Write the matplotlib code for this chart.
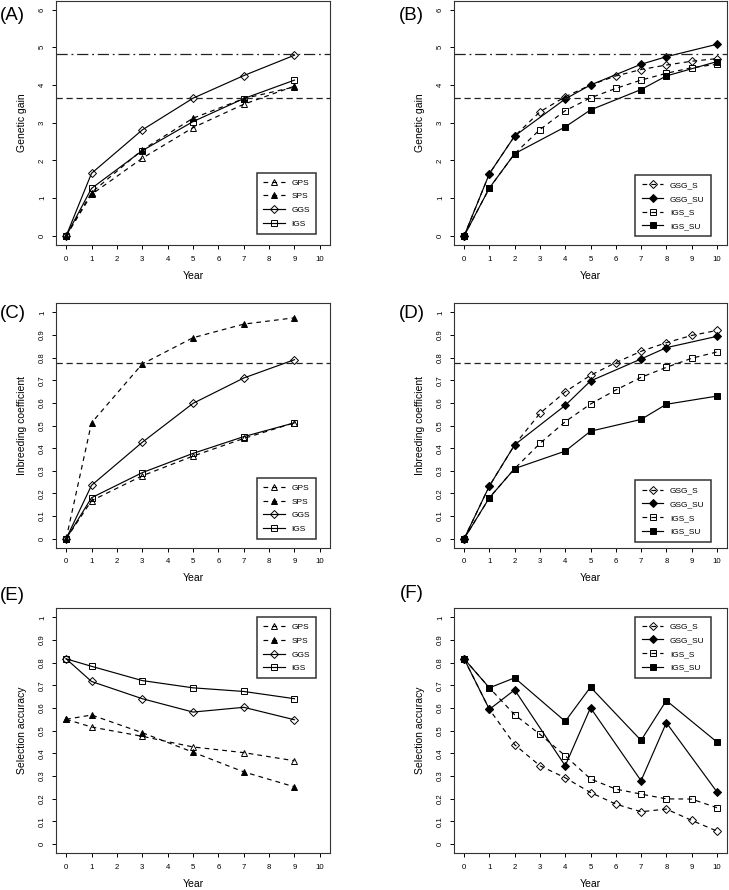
import numpy as np
import matplotlib
matplotlib.use('Agg')
import matplotlib.pyplot as plt

plt.rcParams['font.family'] = ['Liberation Sans', 'DejaVu Sans']

# years
yrs_odd = [0, 1, 3, 5, 7, 9]
yrs_all = [0, 1, 2, 3, 4, 5, 6, 7, 8, 9, 10]
yrs_su = [0, 1, 2, 4, 5, 7, 8, 10]

# (A) genetic gain
gain_gps = [0, 1.10, 2.06, 2.87, 3.49, 3.97]
gain_sps = [0, 1.15, 2.28, 3.12, 3.64, 3.95]
gain_ggs = [0, 1.66, 2.81, 3.65, 4.25, 4.79]
gain_igs = [0, 1.26, 2.26, 3.03, 3.64, 4.13]

# (B) genetic gain
gain_gsg_s = [0, 1.65, 2.65, 3.29, 3.69, 4.00, 4.24, 4.41, 4.53, 4.63, 4.70]
gain_gsg_su = [0, 1.65, 2.65, 3.63, 4.00, 4.55, 4.75, 5.08]
gain_igs_s = [0, 1.27, 2.18, 2.82, 3.32, 3.66, 3.91, 4.13, 4.31, 4.46, 4.55]
gain_igs_su = [0, 1.27, 2.18, 2.89, 3.34, 3.88, 4.24, 4.62]
gain_ref = [4.82, 3.65]

# (C) inbreeding coefficient
inb_gps = [0, 0.168, 0.278, 0.365, 0.443, 0.512]
inb_sps = [0, 0.512, 0.772, 0.888, 0.948, 0.976]
inb_ggs = [0, 0.236, 0.426, 0.598, 0.710, 0.791]
inb_igs = [0, 0.181, 0.292, 0.377, 0.451, 0.512]

# (D) inbreeding coefficient
inb_gsg_s = [0, 0.233, 0.415, 0.554, 0.649, 0.722, 0.778, 0.828, 0.866, 0.898, 0.920]
inb_gsg_su = [0, 0.233, 0.415, 0.589, 0.697, 0.794, 0.844, 0.894]
inb_igs_s = [0, 0.181, 0.310, 0.421, 0.517, 0.595, 0.657, 0.713, 0.757, 0.797, 0.825]
inb_igs_su = [0, 0.181, 0.310, 0.387, 0.475, 0.527, 0.594, 0.630]
inb_ref = 0.775

# (E) selection accuracy
acc_gps = [0.550, 0.516, 0.475, 0.428, 0.403, 0.367]
acc_sps = [0.550, 0.569, 0.491, 0.405, 0.318, 0.252]
acc_ggs = [0.817, 0.717, 0.641, 0.582, 0.603, 0.548]
acc_igs = [0.817, 0.784, 0.721, 0.689, 0.673, 0.641]

# (F) selection accuracy
acc_gsg_s = [0.817, 0.594, 0.438, 0.345, 0.292, 0.227, 0.176, 0.142, 0.154, 0.104, 0.057]
acc_gsg_su = [0.817, 0.594, 0.680, 0.345, 0.601, 0.279, 0.535, 0.230]
acc_igs_s = [0.817, 0.689, 0.570, 0.484, 0.389, 0.287, 0.242, 0.220, 0.199, 0.198, 0.160]
acc_igs_su = [0.817, 0.689, 0.733, 0.541, 0.692, 0.457, 0.633, 0.450]

LW = 0.85
DASH = (4, 3.5)

left_style = [
    ('GPS', '^', 'none', DASH, 4.4),
    ('SPS', '^', 'k', DASH, 4.4),
    ('GGS', 'D', 'none', None, 4.0),
    ('IGS', 's', 'none', None, 4.2),
]
right_style = [
    ('GSG_S', 'D', 'none', DASH, 4.0),
    ('GSG_SU', 'D', 'k', None, 4.0),
    ('IGS_S', 's', 'none', DASH, 3.8),
    ('IGS_SU', 's', 'k', None, 3.8),
]

fig = plt.figure(figsize=(7.29, 8.90), dpi=100)
W, H = 729, 890


def make_ax(x0, x1, y0, y1):
    return fig.add_axes([x0 / W, 1 - y1 / H, (x1 - x0) / W, (y1 - y0) / H])


def draw(ax, xs_list, ys_list, styles, ymax, yticks, ylabel, leg_loc, leg_anchor):
    for xs, ys, (lab, m, fc, dash, ms) in zip(xs_list, ys_list, styles):
        ln, = ax.plot(xs, ys, color='k', lw=LW, marker=m, ms=ms,
                      mfc=fc, mec='k', mew=0.7, label=lab)
        if dash is not None:
            ln.set_dashes(dash)
    ax.set_xlim(-0.4, 10.4)
    ax.set_ylim(-0.04 * ymax, 1.04 * ymax)
    ax.set_xticks(range(11))
    ax.set_yticks(yticks)
    ax.set_yticklabels([('%g' % t) for t in yticks], rotation=90, va='center')
    ax.tick_params(direction='out', length=3.2, width=0.7, labelsize=5.6)
    ax.tick_params(axis='x', pad=4.5)
    ax.tick_params(axis='y', pad=4)
    for s in ax.spines.values():
        s.set_linewidth(0.8)
        s.set_color('#333333')
    ax.set_xlabel('Year', fontsize=7.5)
    ax.set_ylabel(ylabel, fontsize=7.5)
    ax.xaxis.set_label_coords(0.5, -0.105)
    ax.yaxis.set_label_coords(-29 / (ax.get_position().width * W), 0.5)
    leg = ax.legend(loc=leg_loc, bbox_to_anchor=leg_anchor, fontsize=6,
                    frameon=True, fancybox=False, edgecolor='k',
                    handlelength=2.6, handletextpad=0.8, labelspacing=0.7,
                    borderpad=0.75, borderaxespad=0)
    leg.get_frame().set_linewidth(1.1)
    return ax


def ref_lines(ax, vals, styles):
    for v, st in zip(vals, styles):
        ln = ax.axhline(v, color='#222222', lw=0.9)
        ln.set_dashes(st)


gain_ticks = [0, 1, 2, 3, 4, 5, 6]
frac_ticks = [0, 0.1, 0.2, 0.3, 0.4, 0.5, 0.6, 0.7, 0.8, 0.9, 1]

# row 1
axA = make_ax(56, 330, 0.5, 245)
draw(axA, [yrs_odd] * 4, [gain_gps, gain_sps, gain_ggs, gain_igs], left_style,
     6, gain_ticks, 'Genetic gain', 'lower right', (0.949, 0.045))
ref_lines(axA, gain_ref, [(9, 3, 1.5, 3), (5, 3)])

axB = make_ax(454, 727, 0.5, 245)
draw(axB, [yrs_all, yrs_su, yrs_all, yrs_su],
     [gain_gsg_s, gain_gsg_su, gain_igs_s, gain_igs_su], right_style,
     6, gain_ticks, 'Genetic gain', 'lower right', (0.941, 0.035))
ref_lines(axB, gain_ref, [(9, 3, 1.5, 3), (5, 3)])

# row 2
axC = make_ax(56, 330, 303.3, 547.8)
draw(axC, [yrs_odd] * 4, [inb_gps, inb_sps, inb_ggs, inb_igs], left_style,
     1, frac_ticks, 'Inbreeding coefficient', 'lower right', (0.949, 0.035))
ref_lines(axC, [inb_ref], [(5, 3)])

axD = make_ax(454, 727, 303.3, 547.8)
draw(axD, [yrs_all, yrs_su, yrs_all, yrs_su],
     [inb_gsg_s, inb_gsg_su, inb_igs_s, inb_igs_su], right_style,
     1, frac_ticks, 'Inbreeding coefficient', 'lower right', (0.941, 0.025))
ref_lines(axD, [inb_ref], [(5, 3)])

# row 3
axE = make_ax(56, 330, 608.3, 853)
draw(axE, [yrs_odd] * 4, [acc_gps, acc_sps, acc_ggs, acc_igs], left_style,
     1, frac_ticks, 'Selection accuracy', 'upper right', (0.949, 0.964))

axF = make_ax(454, 727, 608.3, 853)
draw(axF, [yrs_all, yrs_su, yrs_all, yrs_su],
     [acc_gsg_s, acc_gsg_su, acc_igs_s, acc_igs_su], right_style,
     1, frac_ticks, 'Selection accuracy', 'upper right', (0.941, 0.966))

for lab, x, y in [('(A)', 12.5, 16), ('(B)', 411.5, 16), ('(C)', 12.5, 313),
                  ('(D)', 411.5, 313), ('(E)', 12.5, 596), ('(F)', 411.5, 594)]:
    fig.text(x / W, 1 - y / H, lab, fontsize=13.5, ha='center', va='center')

fig.savefig('out.png', dpi=100)
